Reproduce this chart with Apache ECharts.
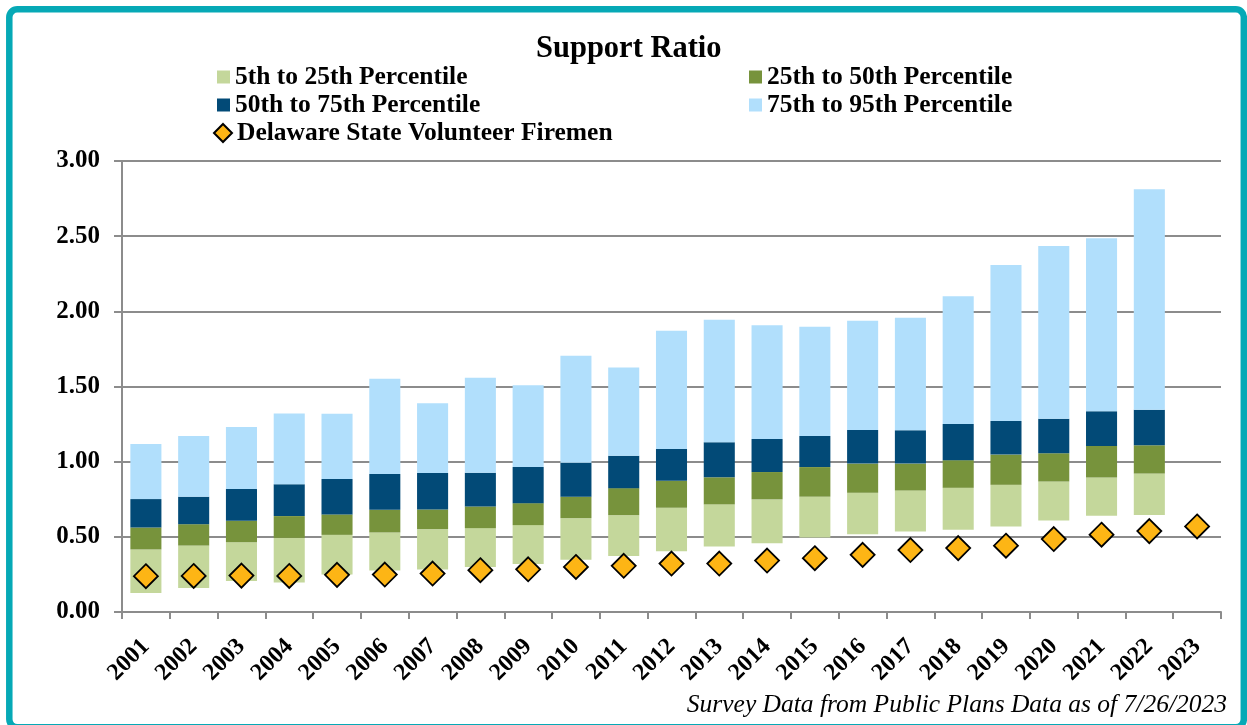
<!DOCTYPE html>
<html>
<head>
<meta charset="utf-8">
<script src="https://cdn.jsdelivr.net/npm/echarts@6/dist/echarts.min.js"></script>
<style>
html,body{margin:0;padding:0;background:#fff;}
#c{width:1247px;height:725px;}
</style>
</head>
<body>
<div id="c"></div>
<script>
const years = ['2001','2002','2003','2004','2005','2006','2007','2008','2009','2010','2011','2012','2013','2014','2015','2016','2017','2018','2019','2020','2021','2022','2023'];
const p5  = [0.127,0.160,0.207,0.196,0.249,0.276,0.282,0.300,0.320,0.347,0.373,0.404,0.436,0.458,0.496,0.518,0.536,0.547,0.569,0.609,0.640,0.646,null];
const p25 = [0.416,0.442,0.464,0.493,0.513,0.529,0.551,0.558,0.578,0.624,0.644,0.693,0.716,0.749,0.767,0.793,0.808,0.826,0.846,0.868,0.894,0.921,null];
const p50 = [0.562,0.584,0.607,0.638,0.649,0.680,0.682,0.702,0.724,0.767,0.824,0.873,0.896,0.931,0.964,0.987,0.987,1.010,1.047,1.056,1.105,1.109,null];
const p75 = [0.751,0.767,0.818,0.849,0.884,0.918,0.924,0.927,0.964,0.993,1.040,1.084,1.129,1.151,1.171,1.211,1.209,1.251,1.271,1.286,1.335,1.346,null];
const p95 = [1.118,1.171,1.231,1.320,1.318,1.551,1.389,1.558,1.509,1.704,1.627,1.871,1.944,1.907,1.898,1.938,1.957,2.101,2.309,2.435,2.486,2.812,null];
const plan = [0.238,0.240,0.242,0.240,0.247,0.249,0.256,0.278,0.284,0.300,0.307,0.322,0.322,0.342,0.358,0.380,0.412,0.425,0.441,0.485,0.514,0.538,0.569];
const yTicks = ['0.00','0.50','1.00','1.50','2.00','2.50','3.00'];
const names = ['5th to 25th Percentile','25th to 50th Percentile','50th to 75th Percentile','75th to 95th Percentile','Delaware State Volunteer Firemen'];

const diff = (a, b) => a.map((v, i) => (v == null || b[i] == null) ? null : +(v - b[i]).toFixed(4));
const serif = "'Liberation Serif','Times New Roman',serif";

const chart = echarts.init(document.getElementById('c'), null, {renderer: 'canvas'});
const legendText = {fontFamily: serif, fontWeight: 'bold', fontSize: 25.5, color: '#000', lineHeight: 28};
const rangeBar = (name, data, color) => ({
  name, type: 'bar', stack: 'r', data, barWidth: '65%',
  itemStyle: {color}, emphasis: {disabled: true}
});

chart.setOption({
  animation: false,
  backgroundColor: '#fff',
  title: {
    text: 'Support Ratio', left: 531, top: 29,
    textStyle: {fontFamily: serif, fontWeight: 'bold', fontSize: 30.5, color: '#000'}
  },
  legend: [
    {left: 217, top: 63, padding: 0, orient: 'vertical', itemWidth: 13, itemHeight: 13, itemGap: 0,
     data: [names[0], names[2]], textStyle: legendText, icon: 'rect', selectedMode: false},
    {left: 749, top: 63, padding: 0, orient: 'vertical', itemWidth: 13, itemHeight: 13, itemGap: 0,
     data: [names[1], names[3]], textStyle: legendText, icon: 'rect', selectedMode: false},
    {left: 213, top: 119, padding: 0, orient: 'vertical', itemWidth: 18, itemHeight: 18, itemGap: 0,
     data: [names[4]], textStyle: legendText, selectedMode: false}
  ],
  grid: {left: 122, right: 26, top: 161, bottom: 113, containLabel: false},
  xAxis: {
    type: 'category', data: years, boundaryGap: true,
    axisLine: {lineStyle: {color: '#8c8c8c', width: 2}},
    axisTick: {show: true, length: 7, lineStyle: {color: '#8c8c8c', width: 2}},
    axisLabel: {rotate: 45, margin: 31, fontFamily: serif, fontWeight: 'bold', fontSize: 24, color: '#000', interval: 0}
  },
  yAxis: {
    type: 'value', min: 0, max: 3, interval: 0.5,
    axisLine: {show: true, lineStyle: {color: '#8c8c8c', width: 2}},
    axisTick: {show: true, length: 8, lineStyle: {color: '#8c8c8c', width: 2}},
    splitLine: {show: true, lineStyle: {color: '#8c8c8c', width: 2}},
    axisLabel: {margin: 22, fontFamily: serif, fontWeight: 'bold', fontSize: 25, color: '#000',
      formatter: (v) => yTicks[Math.round(v / 0.5)]}
  },
  series: [
    {name: 'base', type: 'bar', stack: 'r', data: p5, barWidth: '65%',
     itemStyle: {color: 'transparent'}, emphasis: {disabled: true}, silent: true},
    rangeBar(names[0], diff(p25, p5), '#C4D79B'),
    rangeBar(names[1], diff(p50, p25), '#77933C'),
    rangeBar(names[2], diff(p75, p50), '#024A77'),
    rangeBar(names[3], diff(p95, p75), '#B1DFFC'),
    {name: names[4], type: 'scatter', data: plan, symbol: 'diamond', symbolSize: 24, z: 5,
     itemStyle: {color: '#FDB515', opacity: 1, borderColor: '#000', borderWidth: 1.8}}
  ],
  graphic: [
    {type: 'rect', shape: {x: 9.3, y: 9.3, width: 1234.5, height: 718, r: 8},
     style: {fill: 'none', stroke: '#06A9B6', lineWidth: 6.5}, z: 100, silent: true},
    {type: 'text', right: 20, top: 692,
     style: {text: 'Survey Data from Public Plans Data as of 7/26/2023', font: 'italic 25.5px ' + serif, fill: '#000'}}
  ]
});
</script>
</body>
</html>
